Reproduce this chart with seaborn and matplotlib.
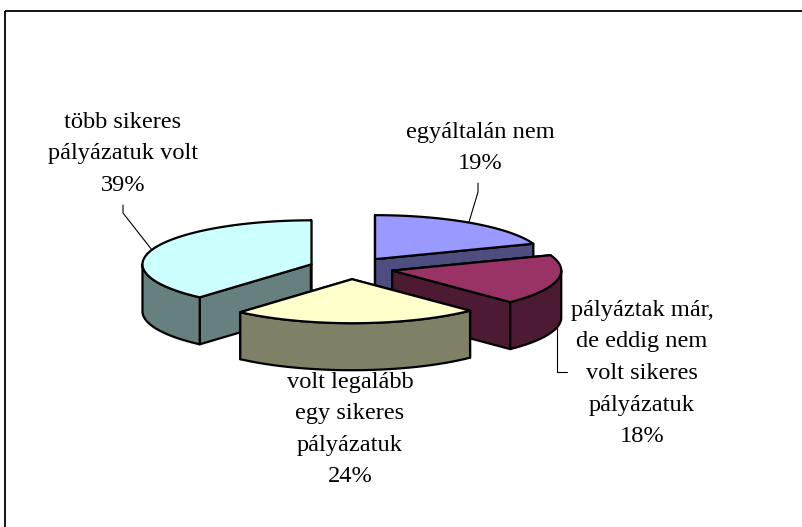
import numpy as np
import matplotlib
matplotlib.use("Agg")
import matplotlib.pyplot as plt
from matplotlib.colors import to_rgb
from matplotlib.patches import Polygon, Rectangle
import seaborn as sns

# Data
categories = ["egyáltalán nem", "pályáztak már,\nde eddig nem\nvolt sikeres\npályázatuk",
              "volt legalább\negy sikeres\npályázatuk", "több sikeres\npályázatuk volt"]
values = [19.3, 18.4, 23.8, 38.5]
percent_labels = ["19%", "18%", "24%", "39%"]
top_colors = ["#9999FF", "#993366", "#FFFFCC", "#CCFFFF"]

# Layout (pixel space)
W, H = 803, 527
cx, cy = 351.0, 268.2
rx, ry = 169.0, 44.0
depth = 47.0
explode = 0.25
label_xy = [(480, 148), (642, 373.5), (350, 429.5), (123, 154)]
leaders = [[(478, 183), (478, 192), (469, 222)],
           [(567, 372), (557.5, 372), (557.5, 325)],
           [],
           [(123, 205), (123, 213), (152, 250)]]

sns.set_theme(style="white")
plt.rcParams["font.family"] = ["Liberation Serif", "DejaVu Serif"]

fig = plt.figure(figsize=(W / 100, H / 100), dpi=100)
ax = fig.add_axes([0, 0, 1, 1])
ax.set_xlim(0, W)
ax.set_ylim(H, 0)
ax.axis("off")

ax.add_patch(Rectangle((5.5, 11), 900, 700, fill=False, ec="black", lw=1.3, zorder=0))

fractions = np.array(values, dtype=float) / np.sum(values)
sweeps = 360 * fractions
starts = 90 - np.concatenate([[0], np.cumsum(sweeps)[:-1]])


def pt(x0, y0, deg):
    a = np.deg2rad(deg)
    return x0 + rx * np.cos(a), y0 - ry * np.sin(a)


edge = dict(ec="black", lw=1.6, joinstyle="round")
order = [0, 3, 1, 2]
for z, i in enumerate(order, start=2):
    t0, t1 = starts[i], starts[i] - sweeps[i]
    mid = np.deg2rad((t0 + t1) / 2)
    x0 = cx + explode * rx * np.cos(mid)
    y0 = cy - explode * ry * np.sin(mid)
    top = top_colors[i]
    wall = tuple(0.5 * c for c in to_rgb(top))
    # radial walls
    for t in (t0, t1):
        px, py = pt(x0, y0, t)
        ax.add_patch(Polygon([(x0, y0), (px, py), (px, py + depth), (x0, y0 + depth)],
                             fc=wall, zorder=z, **edge))
    # outer wall (front half only)
    if t1 < 0:
        tt = np.linspace(min(t0, 0), max(t1, -180), 80)
        up = np.array([pt(x0, y0, t) for t in tt])
        lo = up + [0, depth]
        ax.add_patch(Polygon(np.vstack([up, lo[::-1]]), fc=wall, zorder=z, **edge))
    # top face
    tt = np.linspace(t0, t1, 160)
    rim = np.array([pt(x0, y0, t) for t in tt])
    ax.add_patch(Polygon(np.vstack([[(x0, y0)], rim]), fc=top, zorder=z, **edge))

for seg in leaders:
    if seg:
        xs, ys = zip(*seg)
        ax.plot(xs, ys, color="black", lw=0.8, zorder=1)

for lab, pct, (x, y) in zip(categories, percent_labels, label_xy):
    ax.text(x, y, f"{lab}\n{pct}", ha="center", va="center", fontsize=17.6,
            linespacing=1.66, color="black", zorder=10)

fig.savefig("out.png", dpi=100, facecolor="white")
